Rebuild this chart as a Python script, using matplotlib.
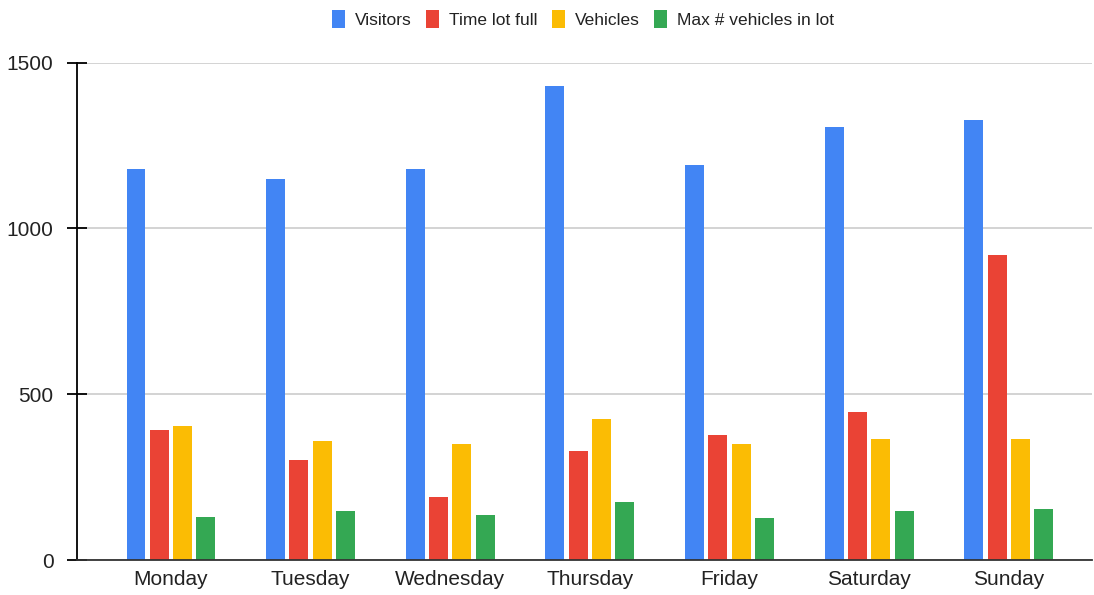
import numpy as np
import matplotlib.pyplot as plt

plt.rcParams['font.family'] = ['Liberation Sans', 'DejaVu Sans']

days = ['Monday', 'Tuesday', 'Wednesday', 'Thursday', 'Friday', 'Saturday', 'Sunday']
visitors = [1180, 1148, 1180, 1430, 1192, 1306, 1327]
time_lot_full = [392, 301, 191, 328, 376, 446, 920]
vehicles = [403, 359, 349, 425, 349, 364, 364]
max_vehicles = [131, 147, 137, 174, 126, 147, 153]

series = [
    ('Visitors', visitors, '#4285F4'),
    ('Time lot full', time_lot_full, '#EA4335'),
    ('Vehicles', vehicles, '#FBBC04'),
    ('Max # vehicles in lot', max_vehicles, '#34A853'),
]

fig = plt.figure(figsize=(10.94, 5.95), dpi=100)
ax = fig.add_axes([77 / 1094, 1 - 560 / 595, 1015 / 1094, 497.3 / 595])

x = np.arange(len(days))
width = 0.136
step = 0.167
for i, (name, vals, color) in enumerate(series):
    ax.bar(x + (i - 1.5) * step, vals, width, color=color, label=name, zorder=3)

ax.set_xlim(-0.673, 6.595)
ax.set_ylim(0, 1500)
ax.set_yticks([0, 500, 1000, 1500])
ax.set_xticks(x)
ax.set_xticklabels(days)

ax.grid(axis='y', color='#cccccc', linewidth=1.2, zorder=0)
for s in ['top', 'right']:
    ax.spines[s].set_visible(False)
ax.spines['left'].set_color('black')
ax.spines['left'].set_linewidth(1.3)
ax.spines['bottom'].set_color('#333333')
ax.spines['bottom'].set_linewidth(1.3)
ax.spines['left'].set_zorder(4)
ax.spines['bottom'].set_zorder(4)

ax.tick_params(axis='y', direction='inout', length=15, width=1.3, pad=9.4,
               labelsize=15, labelcolor='#222222')
ax.tick_params(axis='x', length=0, pad=7, labelsize=15, labelcolor='#222222')

fig.legend(loc='center', bbox_to_anchor=(583 / 1094, 1 - 19 / 595), ncol=4,
           frameon=False, fontsize=12.5, handlelength=0.75, handleheight=1.3,
           handletextpad=0.6, columnspacing=0.8, labelcolor='#222222')

fig.savefig('out.png', dpi=100)
